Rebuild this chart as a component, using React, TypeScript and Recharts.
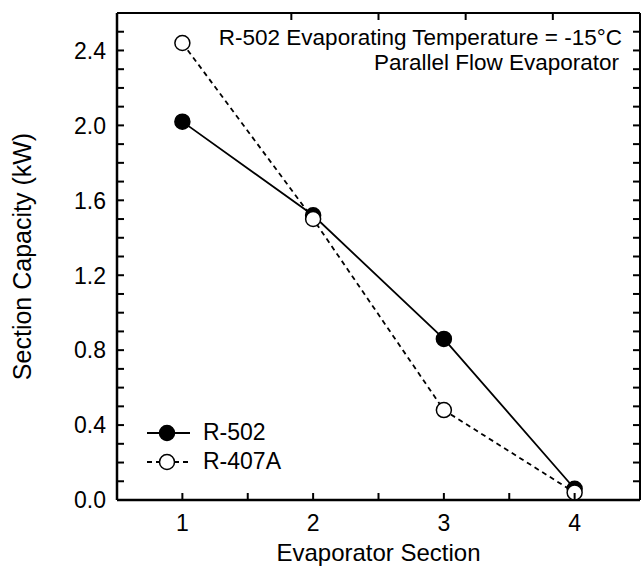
import React from 'react';
import { LineChart, Line, XAxis, YAxis } from 'recharts';

const sections = [1, 2, 3, 4];
const r502Values = [2.02, 1.52, 0.86, 0.06];
const r407aValues = [2.44, 1.5, 0.48, 0.04];

const xTicks = [1, 1.5, 2, 2.5, 3, 3.5, 4];
const xLabels = ['1', '2', '3', '4'];
const yTicks = [0, 0.1, 0.2, 0.3, 0.4, 0.5, 0.6, 0.7, 0.8, 0.9, 1.0, 1.1, 1.2, 1.3, 1.4, 1.5, 1.6, 1.7, 1.8, 1.9, 2.0, 2.1, 2.2, 2.3, 2.4, 2.5];
const yLabels = ['0.0', '0.4', '0.8', '1.2', '1.6', '2.0', '2.4'];

const font = '"Liberation Sans", Arial, sans-serif';
const CHART_W = 642;
const Y_AXIS_W = 117;
const RIGHT_GAP = 2;
const PLOT_W = CHART_W - Y_AXIS_W - RIGHT_GAP;
const TICK_LEN = 7;
const TICK_W = 2;
const Y_MARGIN = 11;
const X_MARGIN = 14;

const data = sections.map((s, i) => ({
    section: s,
    r502: r502Values[i],
    r407a: r407aValues[i],
}));

// ticks point inward; the left tick also draws the matching one on the right frame
const LeftTick = (props: any) => {
    const x = Number(props.x);
    const y = Number(props.y);
    const axisX = x + Y_MARGIN;
    const txt = Number(props.payload.value).toFixed(1);
    return (
        <g>
            <path d={`M${axisX},${y}h${TICK_LEN}`} stroke="#000" strokeWidth={TICK_W} fill="none" />
            <path d={`M${axisX + PLOT_W},${y}h${-TICK_LEN}`} stroke="#000" strokeWidth={TICK_W} fill="none" />
            {yLabels.includes(txt) && (
                <text x={x} y={y} dy="0.36em" textAnchor="end" fill="#000" fontSize={23} fontFamily={font}>
                    {txt}
                </text>
            )}
        </g>
    );
};

const BottomTick = (props: any) => {
    const x = Number(props.x);
    const y = Number(props.y);
    const txt = String(props.payload.value);
    return (
        <g>
            <path d={`M${x},${y - X_MARGIN}v${-TICK_LEN}`} stroke="#000" strokeWidth={TICK_W} fill="none" />
            {xLabels.includes(txt) && (
                <text x={x} y={y} dy="0.72em" textAnchor="middle" fill="#000" fontSize={23} fontFamily={font}>
                    {txt}
                </text>
            )}
        </g>
    );
};

const TopTick = (props: any) => {
    const x = Number(props.x);
    const y = Number(props.y);
    return <path d={`M${x},${y}v${TICK_LEN}`} stroke="#000" strokeWidth={TICK_W} fill="none" />;
};

const App: React.FC = () => {
    return (
        <div style={{ position: 'absolute', left: 0, top: 0, width: CHART_W, height: 570, background: '#fff', fontFamily: font }}>
            <LineChart width={CHART_W} height={570} data={data} margin={{ top: 12, right: 1, bottom: 0, left: 0 }}>
                <XAxis
                    dataKey="section"
                    type="number"
                    domain={[0.5, 4.5]}
                    ticks={xTicks}
                    interval={0}
                    height={70}
                    tickSize={0}
                    tickMargin={X_MARGIN}
                    tick={BottomTick}
                    tickLine={false}
                    axisLine={{ stroke: '#000', strokeWidth: 2.5 }}
                    label={{ value: 'Evaporator Section', position: 'insideBottom', offset: 9, fill: '#000', fontSize: 24, fontFamily: font }}
                />
                <XAxis
                    xAxisId="top"
                    orientation="top"
                    type="number"
                    domain={[0.5, 4.5]}
                    ticks={xTicks}
                    interval={0}
                    height={1}
                    tickSize={0}
                    tickMargin={0}
                    tick={TopTick}
                    tickLine={false}
                    axisLine={{ stroke: '#000', strokeWidth: 2 }}
                />
                <YAxis
                    type="number"
                    domain={[0, 2.6]}
                    ticks={yTicks}
                    interval={0}
                    width={Y_AXIS_W}
                    tickSize={0}
                    tickMargin={Y_MARGIN}
                    tick={LeftTick}
                    tickLine={false}
                    axisLine={{ stroke: '#000', strokeWidth: 2.5 }}
                    label={{ value: 'Section Capacity (kW)', angle: -90, position: 'insideLeft', offset: 22, textAnchor: 'middle', fill: '#000', fontSize: 25, fontFamily: font }}
                />
                <YAxis
                    yAxisId="right"
                    orientation="right"
                    type="number"
                    domain={[0, 2.6]}
                    width={1}
                    tick={false}
                    tickLine={false}
                    axisLine={{ stroke: '#000', strokeWidth: 2 }}
                />
                <Line
                    dataKey="r502"
                    stroke="#000"
                    strokeWidth={1.8}
                    dot={{ r: 7.5, fill: '#000', stroke: '#000', strokeWidth: 1.5 }}
                    isAnimationActive={false}
                />
                <Line
                    dataKey="r407a"
                    stroke="#000"
                    strokeWidth={1.8}
                    strokeDasharray="5 4"
                    dot={{ r: 7.5, fill: '#fff', stroke: '#000', strokeWidth: 1.5, strokeDasharray: '0' }}
                    isAnimationActive={false}
                />
            </LineChart>

            <div style={{ position: 'absolute', right: 20, top: 25, fontSize: 22.5, lineHeight: '26px', color: '#000', textAlign: 'right', whiteSpace: 'nowrap' }}>
                R-502 Evaporating Temperature = -15°C
            </div>
            <div style={{ position: 'absolute', right: 23, top: 50, fontSize: 22.5, lineHeight: '26px', color: '#000', textAlign: 'right', whiteSpace: 'nowrap' }}>
                Parallel Flow Evaporator
            </div>

            <div style={{ position: 'absolute', left: 144, top: 418, fontSize: 23, color: '#000' }}>
                <div style={{ display: 'flex', alignItems: 'center', height: 29 }}>
                    <svg width={50} height={20}>
                        <line x1={3} y1={10} x2={46} y2={10} stroke="#000" strokeWidth={1.8} />
                        <circle cx={23} cy={10} r={7.5} fill="#000" stroke="#000" strokeWidth={1.5} />
                    </svg>
                    <span style={{ marginLeft: 9 }}>R-502</span>
                </div>
                <div style={{ display: 'flex', alignItems: 'center', height: 29 }}>
                    <svg width={50} height={20}>
                        <line x1={3} y1={10} x2={46} y2={10} stroke="#000" strokeWidth={1.8} strokeDasharray="5 4" />
                        <circle cx={23} cy={10} r={7.5} fill="#fff" stroke="#000" strokeWidth={1.5} />
                    </svg>
                    <span style={{ marginLeft: 9 }}>R-407A</span>
                </div>
            </div>
        </div>
    );
};

export default App;
